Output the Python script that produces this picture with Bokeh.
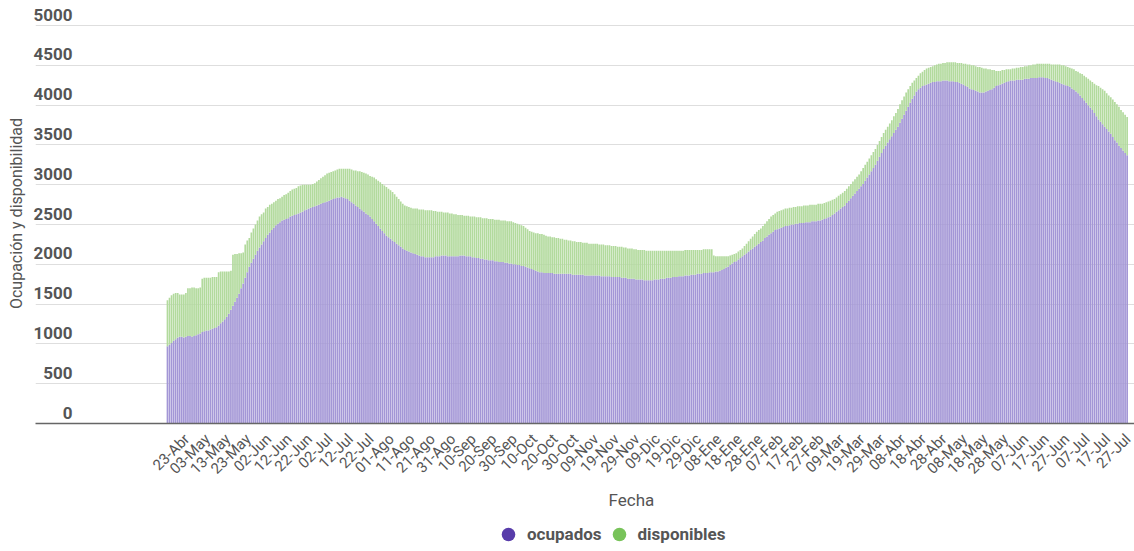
from math import pi
from bokeh.plotting import figure
from bokeh.layouts import column
from bokeh.models import Range1d, LinearAxis, FixedTicker, Grid, Legend, LegendItem, Title
from bokeh.embed import file_html
from bokeh.resources import INLINE

# Daily values, from 23-Abr-2020 onwards
ocupados = [
    970, 990, 1010, 1040, 1060, 1080, 1090, 1090, 1080, 1090,
    1100, 1100, 1090, 1100, 1110, 1120, 1130, 1150, 1160, 1170,
    1170, 1180, 1190, 1200, 1210, 1230, 1260, 1280, 1310, 1340,
    1380, 1430, 1480, 1530, 1580, 1630, 1700, 1760, 1830, 1900,
    1970, 2020, 2070, 2120, 2170, 2210, 2250, 2290, 2330, 2370,
    2400, 2430, 2460, 2490, 2510, 2530, 2550, 2560, 2570, 2580,
    2600, 2610, 2620, 2630, 2640, 2650, 2660, 2680, 2690, 2700,
    2710, 2720, 2730, 2740, 2750, 2760, 2770, 2780, 2790, 2800,
    2810, 2820, 2830, 2840, 2840, 2850, 2840, 2830, 2820, 2800,
    2780, 2760, 2740, 2720, 2700, 2680, 2660, 2640, 2620, 2600,
    2570, 2540, 2510, 2480, 2450, 2420, 2390, 2360, 2340, 2320,
    2300, 2280, 2260, 2240, 2220, 2200, 2180, 2170, 2160, 2150,
    2140, 2130, 2120, 2110, 2100, 2100, 2090, 2090, 2090, 2090,
    2090, 2100, 2100, 2100, 2110, 2110, 2110, 2100, 2100, 2100,
    2100, 2100, 2100, 2110, 2110, 2110, 2100, 2100, 2100, 2090,
    2090, 2080, 2080, 2070, 2070, 2060, 2060, 2050, 2050, 2050,
    2040, 2040, 2030, 2030, 2030, 2020, 2020, 2010, 2010, 2000,
    2000, 1990, 1990, 1980, 1980, 1970, 1960, 1950, 1940, 1930,
    1920, 1910, 1900, 1900, 1890, 1890, 1890, 1890, 1890, 1880,
    1880, 1880, 1880, 1880, 1880, 1880, 1880, 1880, 1870, 1870,
    1870, 1870, 1870, 1870, 1860, 1860, 1860, 1860, 1860, 1860,
    1860, 1860, 1850, 1850, 1850, 1850, 1850, 1840, 1840, 1840,
    1840, 1840, 1830, 1830, 1830, 1820, 1820, 1820, 1820, 1810,
    1810, 1810, 1810, 1800, 1800, 1800, 1800, 1800, 1810, 1810,
    1810, 1820, 1820, 1820, 1830, 1830, 1830, 1840, 1840, 1840,
    1850, 1850, 1850, 1860, 1860, 1860, 1870, 1870, 1870, 1880,
    1880, 1880, 1890, 1890, 1890, 1900, 1900, 1900, 1910, 1910,
    1920, 1930, 1940, 1960, 1970, 1990, 2010, 2030, 2040, 2060,
    2080, 2100, 2120, 2140, 2160, 2180, 2200, 2220, 2240, 2260,
    2280, 2300, 2330, 2350, 2370, 2390, 2410, 2430, 2440, 2450,
    2460, 2470, 2480, 2480, 2490, 2500, 2500, 2510, 2510, 2520,
    2520, 2520, 2530, 2530, 2530, 2540, 2540, 2540, 2550, 2550,
    2560, 2570, 2580, 2590, 2600, 2620, 2640, 2660, 2680, 2700,
    2720, 2740, 2770, 2800, 2830, 2860, 2890, 2920, 2950, 2980,
    3010, 3050, 3090, 3130, 3170, 3210, 3250, 3300, 3350, 3400,
    3450, 3490, 3530, 3570, 3610, 3650, 3690, 3730, 3780, 3830,
    3880, 3930, 3980, 4030, 4080, 4120, 4170, 4200, 4220, 4240,
    4250, 4260, 4270, 4280, 4290, 4290, 4300, 4300, 4300, 4310,
    4310, 4310, 4300, 4300, 4300, 4290, 4290, 4280, 4270, 4260,
    4240, 4230, 4210, 4200, 4190, 4180, 4170, 4160, 4160, 4160,
    4170, 4180, 4190, 4200, 4220, 4240, 4250, 4260, 4270, 4280,
    4290, 4300, 4310, 4310, 4310, 4320, 4320, 4320, 4320, 4330,
    4330, 4330, 4340, 4340, 4340, 4340, 4350, 4350, 4350, 4340,
    4340, 4330, 4320, 4310, 4300, 4290, 4280, 4270, 4260, 4250,
    4240, 4230, 4210, 4190, 4170, 4150, 4120, 4090, 4060, 4030,
    4000, 3970, 3940, 3900, 3860, 3820, 3790, 3760, 3730, 3700,
    3670, 3640, 3600, 3560, 3530, 3490, 3460, 3430, 3400, 3370,
]

# ocupados + disponibles (top of each green bar)
capacidad_total = [
    1550, 1580, 1610, 1630, 1640, 1640, 1620, 1620, 1620, 1640,
    1700, 1700, 1710, 1710, 1700, 1700, 1710, 1820, 1830, 1830,
    1830, 1830, 1840, 1840, 1840, 1900, 1910, 1910, 1910, 1910,
    1910, 1920, 2120, 2130, 2130, 2140, 2140, 2150, 2250, 2300,
    2330, 2400, 2450, 2500, 2550, 2600, 2630, 2650, 2700, 2720,
    2750, 2760, 2780, 2800, 2820, 2830, 2850, 2870, 2880, 2900,
    2920, 2940, 2950, 2960, 2980, 2990, 3000, 3000, 3000, 3000,
    3000, 3010, 3020, 3040, 3060, 3080, 3100, 3120, 3140, 3150,
    3160, 3170, 3180, 3190, 3200, 3200, 3200, 3200, 3200, 3200,
    3190, 3180, 3180, 3170, 3170, 3160, 3150, 3140, 3130, 3110,
    3100, 3090, 3070, 3050, 3030, 3010, 2990, 2970, 2950, 2930,
    2910, 2880, 2850, 2820, 2790, 2760, 2740, 2730, 2720, 2710,
    2700, 2700, 2700, 2690, 2690, 2690, 2680, 2680, 2680, 2680,
    2670, 2670, 2660, 2660, 2660, 2650, 2650, 2650, 2640, 2640,
    2630, 2630, 2620, 2620, 2620, 2610, 2610, 2610, 2600, 2600,
    2600, 2590, 2590, 2590, 2580, 2580, 2580, 2570, 2570, 2570,
    2560, 2560, 2560, 2550, 2550, 2550, 2540, 2540, 2540, 2530,
    2520, 2510, 2500, 2490, 2480, 2460, 2440, 2420, 2410, 2400,
    2390, 2390, 2380, 2380, 2370, 2360, 2350, 2350, 2340, 2340,
    2330, 2330, 2320, 2320, 2310, 2310, 2300, 2300, 2290, 2290,
    2280, 2280, 2280, 2270, 2270, 2270, 2260, 2260, 2260, 2260,
    2260, 2250, 2250, 2250, 2240, 2240, 2240, 2230, 2230, 2230,
    2220, 2220, 2220, 2210, 2210, 2200, 2200, 2200, 2190, 2190,
    2180, 2180, 2180, 2180, 2170, 2170, 2170, 2170, 2170, 2170,
    2170, 2170, 2170, 2170, 2170, 2170, 2170, 2170, 2170, 2170,
    2170, 2170, 2170, 2180, 2180, 2180, 2180, 2180, 2180, 2180,
    2180, 2180, 2190, 2190, 2190, 2190, 2190, 2110, 2100, 2100,
    2100, 2100, 2100, 2100, 2100, 2110, 2120, 2130, 2140, 2160,
    2180, 2200, 2230, 2260, 2290, 2320, 2350, 2380, 2410, 2430,
    2450, 2480, 2510, 2540, 2570, 2600, 2620, 2640, 2660, 2670,
    2680, 2690, 2700, 2700, 2710, 2710, 2720, 2720, 2730, 2730,
    2730, 2740, 2740, 2740, 2750, 2750, 2750, 2750, 2760, 2760,
    2760, 2770, 2780, 2790, 2800, 2810, 2820, 2840, 2860, 2880,
    2900, 2920, 2950, 2980, 3010, 3040, 3070, 3100, 3130, 3170,
    3210, 3250, 3290, 3330, 3370, 3410, 3450, 3500, 3550, 3600,
    3650, 3690, 3730, 3770, 3810, 3860, 3900, 3950, 4010, 4060,
    4110, 4160, 4200, 4240, 4280, 4310, 4340, 4370, 4400, 4420,
    4440, 4460, 4470, 4480, 4490, 4500, 4510, 4520, 4520, 4530,
    4530, 4540, 4540, 4540, 4540, 4540, 4530, 4530, 4530, 4520,
    4520, 4510, 4510, 4500, 4500, 4490, 4480, 4480, 4470, 4460,
    4460, 4450, 4450, 4440, 4440, 4430, 4430, 4430, 4440, 4440,
    4450, 4450, 4450, 4460, 4460, 4470, 4470, 4480, 4480, 4490,
    4490, 4500, 4500, 4510, 4510, 4520, 4520, 4520, 4520, 4520,
    4520, 4520, 4510, 4510, 4510, 4510, 4510, 4500, 4500, 4490,
    4480, 4470, 4460, 4450, 4430, 4420, 4400, 4390, 4370, 4350,
    4330, 4310, 4290, 4270, 4250, 4240, 4220, 4200, 4180, 4150,
    4120, 4100, 4070, 4040, 4010, 3980, 3940, 3910, 3880, 3850,
]

etiquetas_fecha = [
    "23-Abr", "03-May", "13-May", "23-May", "02-Jun", "12-Jun", "22-Jun",
    "02-Jul", "12-Jul", "22-Jul", "01-Ago", "11-Ago", "21-Ago", "31-Ago",
    "10-Sep", "20-Sep", "30-Sep", "10-Oct", "20-Oct", "30-Oct", "09-Nov",
    "19-Nov", "29-Nov", "09-Dic", "19-Dic", "29-Dic", "08-Ene", "18-Ene",
    "28-Ene", "07-Feb", "17-Feb", "27-Feb", "09-Mar", "19-Mar", "29-Mar",
    "08-Abr", "18-Abr", "28-Abr", "08-May", "18-May", "28-May", "07-Jun",
    "17-Jun", "27-Jun", "07-Jul", "17-Jul", "27-Jul",
]

y_ticks = [0, 500, 1000, 1500, 2000, 2500, 3000, 3500, 4000, 4500, 5000]

series_nombres = ["ocupados", "disponibles"]
colores_barras = ["#a396d6", "#b2da9d"]
colores_leyenda = ["#583caa", "#78c35a"]

dias = list(range(len(ocupados)))
pos_etiquetas = [10 * k for k in range(len(etiquetas_fecha))]

X0, X1 = -64.5, 472.6
Y1 = 5277
S = 9.5      # shift so that rotated labels sit centred under their day
D = 138      # shift so that y labels sit just above their gridline

p = figure(width=1134, height=487, output_backend="svg", toolbar_location=None,
           title=None, x_range=Range1d(X0, X1), y_range=Range1d(0, Y1),
           x_axis_location=None, y_axis_location=None,
           min_border_left=35, min_border_right=0, min_border_top=3,
           min_border_bottom=60)
p.outline_line_color = None
p.background_fill_color = "white"
p.border_fill_color = "white"
p.xgrid.visible = False
p.ygrid.visible = False

grid = Grid(dimension=1, ticker=FixedTicker(ticks=y_ticks),
            grid_line_color="#dedede", grid_line_width=1)
p.add_layout(grid)

p.vbar(x=dias, top=ocupados, bottom=0, width=0.82,
       fill_color=colores_barras[0], line_color=None)
p.vbar(x=dias, top=capacidad_total, bottom=ocupados, width=0.82,
       fill_color=colores_barras[1], line_color=None)

# y axis
p.extra_y_ranges = {"ylab": Range1d(-D, Y1 - D)}
yax = LinearAxis(y_range_name="ylab", ticker=FixedTicker(ticks=y_ticks),
                 axis_label="Ocupación y disponibilidad")
yax.axis_line_color = None
yax.major_tick_line_color = None
yax.minor_tick_line_color = None
yax.major_label_standoff = -43
yax.major_label_text_font = "Roboto"
yax.major_label_text_font_size = "17px"
yax.major_label_text_font_style = "bold"
yax.major_label_text_color = "#555555"
yax.axis_label_text_font = "Roboto"
yax.axis_label_text_font_size = "16px"
yax.axis_label_text_font_style = "normal"
yax.axis_label_text_color = "#555555"
yax.axis_label_standoff = 4
p.add_layout(yax, "left")

# x axis
p.extra_x_ranges = {"xlab": Range1d(X0 - S, X1 - S)}
xax = LinearAxis(x_range_name="xlab", ticker=FixedTicker(ticks=pos_etiquetas),
                 major_label_overrides=dict(zip(pos_etiquetas, etiquetas_fecha)),
                 major_label_orientation=pi / 4)
xax.axis_line_color = "#666666"
xax.axis_line_width = 1.5
xax.major_tick_line_color = None
xax.minor_tick_line_color = None
xax.major_label_standoff = 7
xax.major_label_text_font = "Roboto"
xax.major_label_text_font_size = "15px"
xax.major_label_text_color = "#555555"
p.add_layout(xax, "below")

# strip under the chart: axis title and legend (frame aligned with the chart)
q = figure(width=1134, height=64, output_backend="svg", toolbar_location=None,
           title=None, x_axis_location=None, y_axis_location=None,
           min_border=0)
q.outline_line_color = None
q.xgrid.visible = False
q.ygrid.visible = False

titulo_x = Title(text="Fecha", align="left", offset=573, text_font="Roboto",
                 text_font_size="17px", text_font_style="normal",
                 text_color="#555555", standoff=0)
q.add_layout(titulo_x, "above")

m1 = q.scatter(x=dias, y=ocupados, marker="circle", size=0,
               fill_color=colores_leyenda[0], line_color=None)
m2 = q.scatter(x=dias, y=capacidad_total, marker="circle", size=0,
               fill_color=colores_leyenda[1], line_color=None)
legend = Legend(items=[LegendItem(label=series_nombres[0], renderers=[m1]),
                       LegendItem(label=series_nombres[1], renderers=[m2])],
                orientation="horizontal", location=(456, 0),
                glyph_width=34, glyph_height=34, label_standoff=2, spacing=0,
                padding=0, margin=0, border_line_color=None,
                background_fill_alpha=0, label_text_font="Roboto",
                label_text_font_size="17px", label_text_font_style="bold",
                label_text_color="#555555")
q.add_layout(legend, "center")

open("out.html", "w").write(file_html(column(p, q, spacing=0), INLINE))
